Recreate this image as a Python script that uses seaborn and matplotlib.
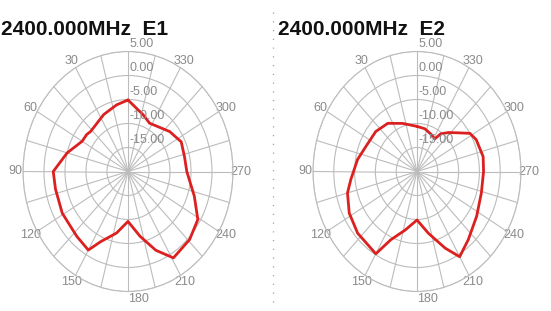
import numpy as np
import pandas as pd
import matplotlib
matplotlib.use("Agg")
import matplotlib.pyplot as plt
from matplotlib.lines import Line2D
from matplotlib.transforms import offset_copy
import seaborn as sns

sns.set_style("white")
plt.rcParams["font.family"] = ["Liberation Sans", "DejaVu Sans"]

freq_label = "2400.000MHz"
port_names = ["E1", "E2"]

r_ticks = [-15, -10, -5, 0, 5]
r_tick_labels = ["-15.00", "-10.00", "-5.00", "0.00", "5.00"]
angle_ticks = list(range(0, 360, 15))
angle_labels = ["" if (a % 30 or a == 0) else str(a) for a in angle_ticks]

# Pattern E1 (angle in deg, gain in dB)
e1_angles = [0, 11, 26, 47, 52, 60, 75, 90, 102, 119, 138, 150, 156, 168, 180,
             192, 202, 211, 226, 239, 252, 270, 283, 296, 310, 333, 343]
e1_gain = [-5.1, -5.85, -6.8, -7.8, -7.5, -7.4, -5.0, -2.2, -2.35, -2.1, -1.8, -1.1, -4.0, -6.9, -9.6,
           -6.2, -2.3, 1.0, 0.4, -0.6, -3.4, -6.0, -6.2, -5.9, -7.05, -8.7, -7.65]

# Pattern E2
e2_angles = [0, 19, 35, 50, 67, 80, 96, 105, 118, 132, 150, 156, 167, 180,
             192, 203, 210, 221, 237, 254, 270, 281, 295, 302, 309, 317, 324, 328, 335, 348]
e2_gain = [-10.6, -9.4, -7.75, -7.05, -6.65, -5.5, -4.0, -2.7, -1.55, -0.8, -0.2, -4.4, -7.5, -9.9,
           -6.85, -2.65, 0.5, -1.2, -2.9, -3.9, -4.0, -3.8, -4.3, -5.0, -7.2, -8.9, -10.3, -12.0, -11.6, -10.9]

grid_col = "#bcbcbc"
label_col = "#8a8a8a"

fig = plt.figure(figsize=(5.51, 3.11), dpi=100)


def draw(ax, angles, gain, name, title_x):
    ax.set_aspect("auto")
    ax.set_theta_zero_location("N")
    ax.set_theta_direction(1)
    df = pd.DataFrame({"theta": np.radians(angles + [360]), "gain": gain + [gain[0]]})
    sns.lineplot(data=df, x="theta", y="gain", ax=ax, sort=False, estimator=None,
                 color="#dc2020", lw=2.0)
    ax.set_ylim(-20, 5)
    ax.set_thetagrids(angle_ticks, angle_labels, color=label_col, fontsize=9)
    ax.set_rgrids(r_ticks)
    ax.set_yticklabels([])
    ax.tick_params(axis="x", pad=-5)
    for t in ax.get_xticklabels():
        if t.get_text() == "180":
            t.set_horizontalalignment("left")
    ax.grid(True, color=grid_col, lw=0.8)
    ax.spines["polar"].set_color(grid_col)
    ax.spines["polar"].set_linewidth(0.8)
    ax.set_xlabel("")
    ax.set_ylabel("")
    tr = offset_copy(ax.transData, fig=fig, x=1, y=1, units="points")
    for r, lab in zip(r_ticks, r_tick_labels):
        ax.text(0, r, lab, transform=tr, ha="left", va="bottom",
                color=label_col, fontsize=9)
    ax.text(title_x, 1.07, f"{freq_label}  {name}", transform=ax.transAxes,
            ha="left", va="baseline", fontsize=15, fontweight="bold", color="#111111")


ax1 = fig.add_axes([23 / 551, 19.5 / 311, 210 / 551, 240 / 311], projection="polar")
ax2 = fig.add_axes([313 / 551, 19.5 / 311, 208 / 551, 240 / 311], projection="polar")
draw(ax1, e1_angles, e1_gain, port_names[0], -0.105)
draw(ax2, e2_angles, e2_gain, port_names[1], -0.168)

fig.add_artist(Line2D([273 / 551, 273 / 551], [0.03, 0.97], transform=fig.transFigure,
                      color="#a0a0a0", lw=0.9, linestyle=(0, (1, 6))))

fig.savefig("out.png", dpi=100)
